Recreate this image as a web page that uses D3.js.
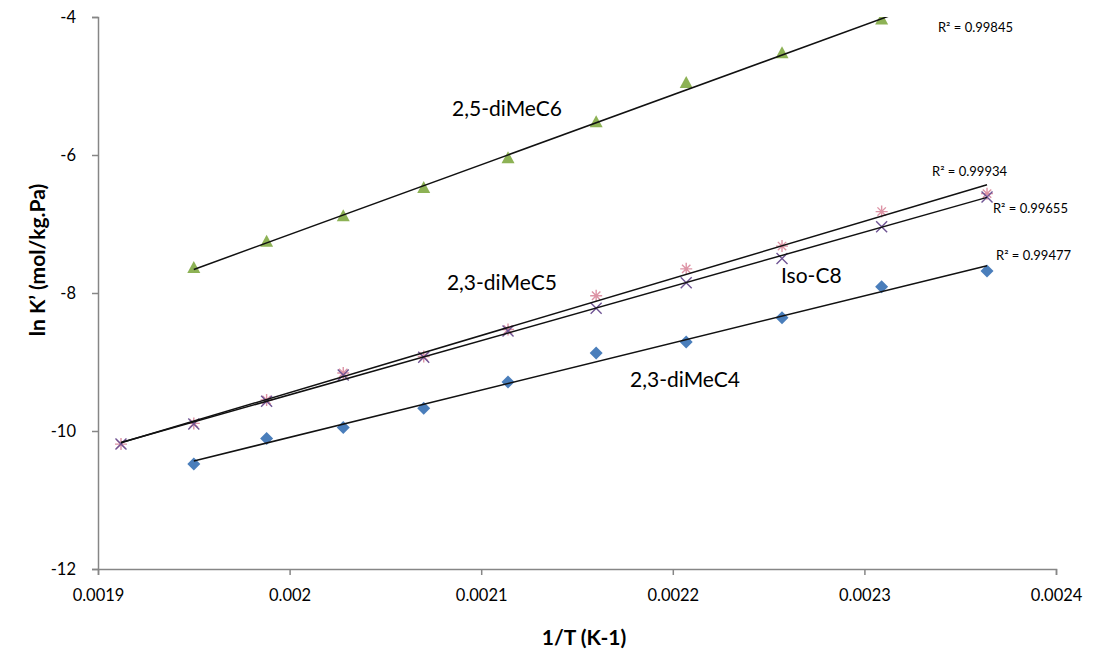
<!DOCTYPE html>
<html>
<head>
<meta charset="utf-8">
<script src="https://cdn.jsdelivr.net/npm/d3@7"></script>
<style>
  html, body { margin: 0; padding: 0; background: #fff; }
  svg { display: block; }
  text { font-family: Lato, "Open Sans", sans-serif; fill: #000; }
</style>
</head>
<body>
<svg id="chart" width="1095" height="662"></svg>
<script>
// 1/T values (K^-1) at which ln K' was measured
const invT = [0.001912, 0.001950, 0.001988, 0.002028, 0.002070, 0.002114,
              0.002160, 0.002207, 0.002257, 0.002309, 0.002364];

// ln K' (mol/kg.Pa) per compound
const diMeC4 = [null, -10.48, -10.11, -9.95, -9.67, -9.29, -8.87, -8.71, -8.36, -7.91, -7.68];
const diMeC6 = [null, -7.64, -7.26, -6.89, -6.48, -6.05, -5.53, -4.96, -4.53, -4.04, -3.50];
const diMeC5 = [-10.19, -9.89, -9.55, -9.16, -8.92, -8.53, -8.04, -7.65, -7.32, -6.82, -6.56];
const isoC8  = [-10.19, -9.90, -9.57, -9.19, -8.93, -8.55, -8.22, -7.85, -7.50, -7.04, -6.61];

// R² text for each fitted line
const r2Labels = ["R² = 0.99477", "R² = 0.99845", "R² = 0.99934", "R² = 0.99655"];

// compound names written beside the lines
const names = ["2,3-diMeC4", "2,5-diMeC6", "2,3-diMeC5", "Iso-C8"];

// axis ticks
const xTicks = [0.0019, 0.0020, 0.0021, 0.0022, 0.0023, 0.0024];
const xTickLabels = ["0.0019", "0.002", "0.0021", "0.0022", "0.0023", "0.0024"];
const yTicks = [-12, -10, -8, -6, -4];
const yTickLabels = ["-12", "-10", "-8", "-6", "-4"];

const xTitle = "1/T (K-1)";
const yTitle = "ln K’ (mol/kg.Pa)";

// where each text sits, in data units (left edge, baseline)
const namePos = [[0.0021777, -9.362], [0.0020848, -5.435], [0.0020821, -7.957], [0.0022565, -7.855]];
const r2Pos = [[0.0023687, -7.522], [0.0023384, -4.217], [0.0023353, -6.304], [0.0023671, -6.841]];

const series = [
  { values: diMeC4, marker: "diamond",  color: "#4A7EBB" },
  { values: diMeC6, marker: "triangle", color: "#8DB255" },
  { values: diMeC5, marker: "star",     color: "#D9879B" },
  { values: isoC8,  marker: "cross",    color: "#6F5494" }
];

const svg = d3.select("#chart");
const plot = { left: 98, right: 1056, top: 17, bottom: 569 };

const x = d3.scaleLinear().domain([0.0019, 0.0024]).range([plot.left, plot.right]);
const y = d3.scaleLinear().domain([-12, -4]).range([plot.bottom, plot.top]);

svg.append("defs").append("clipPath").attr("id", "plotClip")
  .append("rect")
  .attr("x", plot.left).attr("y", plot.top)
  .attr("width", plot.right - plot.left).attr("height", plot.bottom - plot.top);

// axes
const axisColor = "#868686";
const xAxis = svg.append("g")
  .attr("transform", `translate(0,${plot.bottom})`)
  .call(d3.axisBottom(x).tickValues(xTicks).tickFormat((d, i) => xTickLabels[i]).tickSize(6).tickPadding(14));
const yAxis = svg.append("g")
  .attr("transform", `translate(${plot.left},0)`)
  .call(d3.axisLeft(y).tickValues(yTicks).tickFormat((d, i) => yTickLabels[i]).tickSize(6).tickPadding(16));

[xAxis, yAxis].forEach(g => {
  g.select(".domain").attr("stroke", axisColor).attr("stroke-width", 1.5);
  g.selectAll(".tick line").attr("stroke", axisColor).attr("stroke-width", 1.5);
  g.selectAll(".tick text").attr("font-family", "Lato, sans-serif").attr("font-size", 16.5).attr("fill", "#111");
});

// least-squares line through each series
function fit(vals) {
  const pts = vals.map((v, i) => [invT[i], v]).filter(p => p[1] !== null);
  const mx = d3.mean(pts, p => p[0]), my = d3.mean(pts, p => p[1]);
  const sxy = d3.sum(pts, p => (p[0] - mx) * (p[1] - my));
  const sxx = d3.sum(pts, p => (p[0] - mx) ** 2);
  const b = sxy / sxx, a = my - b * mx;
  const x0 = d3.min(pts, p => p[0]), x1 = d3.max(pts, p => p[0]);
  return [[x0, a + b * x0], [x1, a + b * x1]];
}

const marks = svg.append("g").attr("clip-path", "url(#plotClip)");

// marker shapes, centred on (cx, cy)
function markerPath(kind, cx, cy) {
  if (kind === "diamond") {
    const r = 6.5;
    return `M${cx},${cy - r}L${cx + r},${cy}L${cx},${cy + r}L${cx - r},${cy}Z`;
  }
  if (kind === "triangle") {
    const h = 12, w = 13;
    return `M${cx},${cy - h * 0.6}L${cx + w / 2},${cy + h * 0.4}L${cx - w / 2},${cy + h * 0.4}Z`;
  }
  if (kind === "cross") {
    const r = 5.5;
    return `M${cx - r},${cy - r}L${cx + r},${cy + r}M${cx - r},${cy + r}L${cx + r},${cy - r}`;
  }
  const r = 6, d = r * 0.7;
  return `M${cx - r},${cy}L${cx + r},${cy}M${cx},${cy - r}L${cx},${cy + r}` +
         `M${cx - d},${cy - d}L${cx + d},${cy + d}M${cx - d},${cy + d}L${cx + d},${cy - d}`;
}

series.forEach(s => {
  const pts = s.values.map((v, i) => [invT[i], v]).filter(p => p[1] !== null);
  const filled = s.marker === "diamond" || s.marker === "triangle";
  marks.append("g").selectAll("path")
    .data(pts)
    .join("path")
    .attr("d", p => markerPath(s.marker, x(p[0]), y(p[1])))
    .attr("fill", filled ? s.color : "none")
    .attr("stroke", filled ? "none" : s.color)
    .attr("stroke-width", 1.4)
    .attr("opacity", s.marker === "star" ? 0.9 : 1);
});

// fitted lines drawn over the markers
series.forEach(s => {
  const seg = fit(s.values);
  marks.append("line")
    .attr("x1", x(seg[0][0])).attr("y1", y(seg[0][1]))
    .attr("x2", x(seg[1][0])).attr("y2", y(seg[1][1]))
    .attr("stroke", "#111").attr("stroke-width", 1.5);
});

// compound names
names.forEach((nm, i) => {
  svg.append("text")
    .attr("x", x(namePos[i][0])).attr("y", y(namePos[i][1]))
    .attr("font-size", 21)
    .attr("fill", "#111")
    .text(nm);
});

// R² annotations
r2Labels.forEach((t, i) => {
  svg.append("text")
    .attr("x", x(r2Pos[i][0])).attr("y", y(r2Pos[i][1]))
    .attr("font-size", 13)
    .attr("fill", "#222")
    .text(t);
});

// axis titles
svg.append("text")
  .attr("x", (plot.left + plot.right) / 2 + 7).attr("y", 645)
  .attr("text-anchor", "middle")
  .attr("font-size", 21).attr("font-weight", "bold")
  .text(xTitle);

svg.append("text")
  .attr("transform", `translate(45,260) rotate(-90)`)
  .attr("text-anchor", "middle")
  .attr("font-size", 21).attr("font-weight", "bold")
  .text(yTitle);
</script>
</body>
</html>
